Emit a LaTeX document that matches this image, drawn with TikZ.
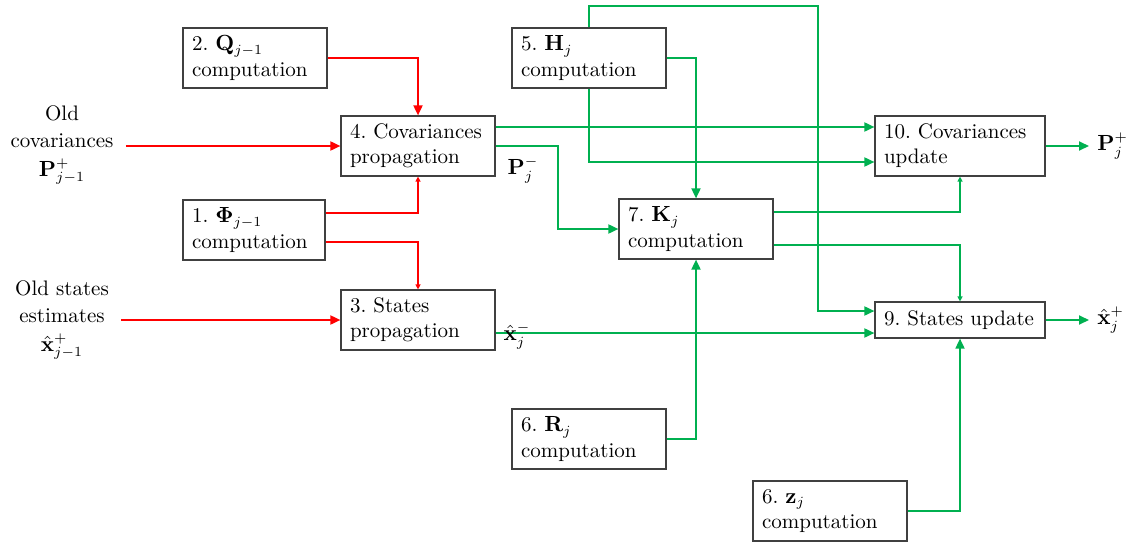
\documentclass[tikz,border=0pt]{standalone}
\usepackage{amsmath}
\usepackage{bm}
\usetikzlibrary{arrows.meta}
\definecolor{kfred}{RGB}{255,0,0}
\definecolor{kfgreen}{RGB}{0,176,80}
\tikzstyle{block}=[draw=black!75,line width=0.6pt,align=left,
                   inner xsep=4.5pt,inner ysep=0pt,minimum height=30pt]
\tikzstyle{inlabel}=[align=center,inner xsep=6pt]
\tikzstyle{outlabel}=[anchor=west,inner xsep=4pt]
\tikzstyle{redline}=[draw=kfred,line width=0.9pt,
                     -{Triangle[length=5pt,width=4.5pt]}]
\tikzstyle{redsmall}=[draw=kfred,line width=0.9pt,
                      -{Triangle[length=2.5pt,width=2.5pt]}]
\tikzstyle{greenline}=[draw=kfgreen,line width=0.9pt,
                       -{Triangle[length=5pt,width=4.5pt]}]
\tikzstyle{greensmall}=[draw=kfgreen,line width=0.9pt,
                        -{Triangle[length=2.5pt,width=2.5pt]}]

\begin{document}
\frenchspacing
\begin{tikzpicture}[x=0.5pt,y=-0.5pt,font=\fontsize{10.5}{12.6}\selectfont]
  \useasboundingbox (0,0) rectangle (1133,546);
  % propagation blocks
  \node (q) at (255,58) [block,text width=63pt]{2. $\mathbf{Q}_{j-1}$\\computation};
  \node (cp) at (418,146) [block,text width=68pt]{4. Covariances\\propagation};
  \node (phi) at (254,230) [block,text width=62pt]{1. $\bm{\Phi}_{j-1}$\\computation};
  \node (sp) at (418,320) [block,text width=68pt]{3. States\\propagation};
  % gain and update blocks
  \node (h) at (589,58) [block,text width=68pt]{5. $\mathbf{H}_{j}$\\computation};
  \node (k) at (696,229) [block,text width=68pt]{7. $\mathbf{K}_{j}$\\computation};
  \node (r) at (589,439) [block,text width=68pt]{6. $\mathbf{R}_{j}$\\computation};
  \node (z) at (830,511) [block,text width=68pt]{6. $\mathbf{z}_{j}$\\computation};
  \node (cu) at (960,146) [block,text width=76pt]{10. Covariances\\update};
  \node (su) at (960,320) [block,text width=76pt,minimum height=18pt]{9. States update};
  % inputs and outputs
  \node (oldcov) at (62,145) [inlabel]{Old\\[1pt]covariances\\[2pt]$\mathbf{P}^{+}_{j-1}$};
  \node (oldst) at (62,320) [inlabel]{Old states\\[1pt]estimates\\[2pt]$\hat{\mathbf{x}}^{+}_{j-1}$};
  \node (pplus) at (1089,146) [outlabel]{$\mathbf{P}^{+}_{j}$};
  \node (xplus) at (1089,320) [outlabel]{$\hat{\mathbf{x}}^{+}_{j}$};
  \node (pminus) at (523,170) {$\mathbf{P}^{-}_{j}$};

  % red: propagation
  \draw[redline] (oldcov.east |- cp.west) -- (cp.west);
  \draw[redline] (oldst.east |- sp.west) -- (sp.west);
  \draw[redline] (q.east) -| (cp.north);
  \draw[redsmall] ([yshift=8.5pt]phi.east) -| (cp.south);
  \draw[redsmall] ([yshift=-6pt]phi.east) -| (sp.north);

  % green: gain and update
  \draw[greenline] ([yshift=9.5pt]cp.east) -- ([yshift=9.5pt]cu.west);
  \draw[greenline] (cp.east) -- ++(31pt,0) |- (k.west);
  \draw[greenline] (h.east) -| (k.north);
  \draw[greenline] (h.south) |- ([yshift=-8pt]cu.west);
  \coordinate (hup) at (818,6);
  \draw[greenline] (h.north) |- (hup) |- ([yshift=4.5pt]su.west);
  \coordinate (xm) at ([yshift=-6.5pt]sp.east);
  \draw[greenline] (xm) -- (xm -| su.west);
  \node (xminus) at (517,336) {$\hat{\mathbf{x}}^{-}_{j}$};
  \draw[greensmall] ([yshift=8.5pt]k.east) -| (cu.south);
  \draw[greensmall] ([yshift=-8pt]k.east) -| (su.north);
  \draw[greenline] (r.east) -| (k.south);
  \draw[greenline] (z.east) -| (su.south);
  \draw[greenline] (cu.east) -- (pplus.west);
  \draw[greenline] (su.east) -- (xplus.west);
\end{tikzpicture}
\end{document}
